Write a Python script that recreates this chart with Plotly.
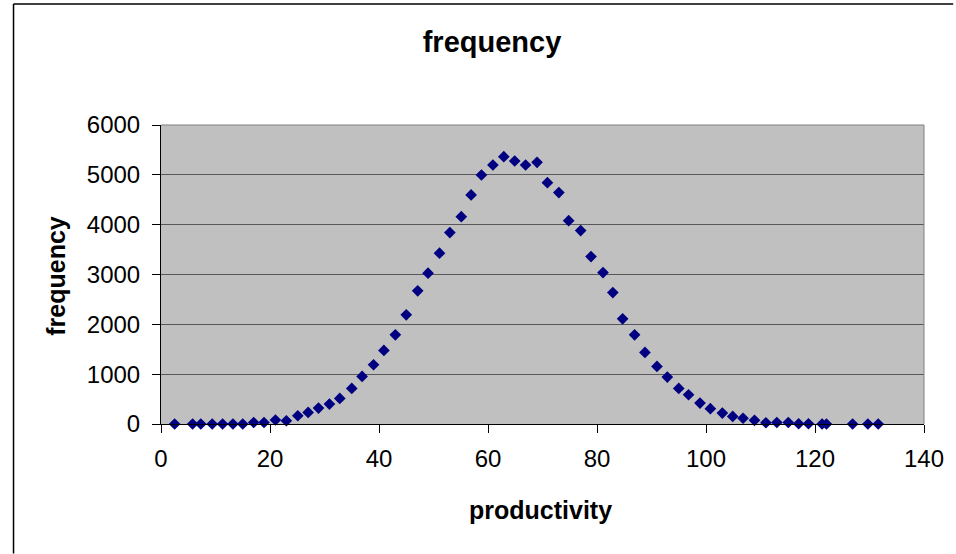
import plotly.graph_objects as go

# Data
productivity = [2.5, 5.8, 7.3, 9.4, 11.3, 13.2, 15.0, 17.0, 18.9, 21.0, 23.0,
                25.1, 27.0, 28.9, 30.9, 32.8, 35.0, 36.9, 39.0, 40.9,
                43.0, 45.0, 47.1, 49.0, 51.1, 53.0, 55.1, 56.9, 58.8, 60.9,
                62.9, 64.9, 66.9, 69.0, 70.9, 73.0, 74.8, 77.0, 78.9, 81.1,
                82.9, 84.7, 86.9, 88.8, 91.0, 92.9, 95.0, 96.8, 98.9, 100.8,
                103.0, 104.9, 106.8, 108.9, 111.0, 113.0, 115.1, 117.0, 118.8, 121.3,
                122.1, 126.9, 129.7, 131.6]
frequency = [0, 0, 0, 0, 0, 0, 0, 30, 30, 80, 65,
             166, 233, 320, 400, 514, 714, 955, 1189, 1476,
             1790, 2191, 2672, 3026, 3427, 3841, 4161, 4596, 4997, 5197,
             5364, 5278, 5197, 5251, 4843, 4643, 4081, 3881, 3360, 3039,
             2638, 2111, 1790, 1436, 1155, 942, 714, 587, 420, 307,
             220, 153, 115, 73, 25, 30, 30, 5, 5, 0,
             0, 0, 0, 0]

chart_title = "frequency"
x_title = "productivity"
y_title = "frequency"

FONT = "Liberation Sans, Arial, sans-serif"

fig = go.Figure()
fig.add_trace(go.Scatter(
    x=productivity, y=frequency, mode="markers",
    marker=dict(symbol="diamond", size=9, color="#000080", line=dict(width=0)),
    cliponaxis=False, showlegend=False,
))

W, H = 956, 554
L, R, T, B = 161, 956 - 926.7, 125, 554 - 424.3
pw, ph = W - L - R, H - T - B

def px_to_paper_x(px):
    return (px - L) / pw

def px_to_paper_y(py):
    return (H - B - py) / ph

fig.update_layout(
    width=W, height=H,
    margin=dict(l=L, r=R, t=T, b=B, pad=0),
    paper_bgcolor="white", plot_bgcolor="#C0C0C0",
    font=dict(family=FONT, size=24, color="black"),
    title=dict(text="<b>%s</b>" % chart_title, font=dict(family=FONT, size=29, color="black"),
               x=492 / W, xref="container", xanchor="center",
               y=1 - 42 / H, yref="container", yanchor="middle"),
    xaxis=dict(range=[0, 140], dtick=20, tick0=0, showgrid=False, zeroline=False,
               showline=True, linecolor="black", linewidth=1,
               ticks="outside", ticklen=8, tickcolor="black", tickwidth=1,
               ticklabelstandoff=5,
               tickfont=dict(family=FONT, size=24, color="black")),
    yaxis=dict(range=[0, 6000], dtick=1000, tick0=0, showgrid=True, gridcolor="#585858",
               gridwidth=1, zeroline=False,
               showline=True, linecolor="black", linewidth=1,
               ticks="outside", ticklen=8, tickcolor="black", tickwidth=1,
               ticklabelstandoff=7,
               tickfont=dict(family=FONT, size=24, color="black")),
    annotations=[
        dict(text="<b>%s</b>" % x_title, xref="paper", yref="paper",
             x=px_to_paper_x(542), y=px_to_paper_y(510), xanchor="center", yanchor="middle",
             showarrow=False, font=dict(family=FONT, size=25, color="black")),
        dict(text="<b>%s</b>" % y_title, xref="paper", yref="paper",
             x=px_to_paper_x(56), y=px_to_paper_y(275.5), xanchor="center", yanchor="middle",
             textangle=-90, showarrow=False, font=dict(family=FONT, size=25, color="black")),
    ],
    shapes=[
        # plot area border (top / right, grey)
        dict(type="line", xref="paper", yref="paper", x0=0, x1=1, y0=1, y1=1,
             line=dict(color="#808080", width=1)),
        dict(type="line", xref="paper", yref="paper", x0=1, x1=1, y0=0, y1=1,
             line=dict(color="#808080", width=1)),
        # chart area border (top / left)
        dict(type="line", xref="paper", yref="paper",
             x0=px_to_paper_x(13), x1=px_to_paper_x(956), y0=px_to_paper_y(4), y1=px_to_paper_y(4),
             line=dict(color="black", width=1.5)),
        dict(type="line", xref="paper", yref="paper",
             x0=px_to_paper_x(13), x1=px_to_paper_x(13), y0=px_to_paper_y(4), y1=px_to_paper_y(554),
             line=dict(color="black", width=1.5)),
    ],
)

fig.write_html("out.html")
